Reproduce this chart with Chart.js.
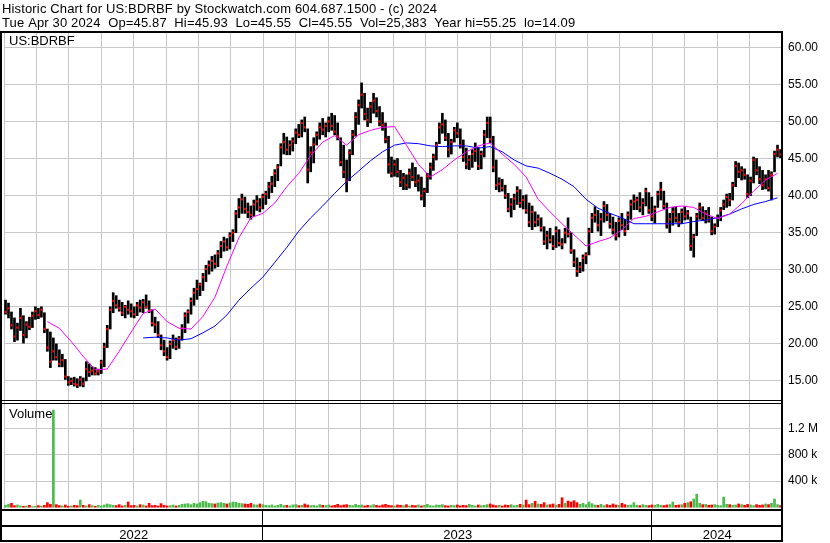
<!DOCTYPE html>
<html>
<head>
<meta charset="utf-8">
<script src="https://cdn.jsdelivr.net/npm/chart.js@4.4.1/dist/chart.umd.min.js"></script>
<style>
  html, body { margin: 0; padding: 0; background: #fff; }
  canvas { display: block; }
</style>
</head>
<body>
<canvas id="myChart" width="830" height="543" style="width:830px;height:543px"></canvas>
<script>
// two-day bars, May 2022 .. Apr 2024
const hi = [
  25.9,25.5,24.3,23.5,22.8,24.8,23.8,23.0,23.6,24.3,
  25.0,24.8,25.0,24.2,22.0,21.6,20.8,20.0,19.2,18.6,
  17.9,15.6,15.4,15.5,15.3,15.6,15.4,17.6,17.3,16.9,
  16.8,16.6,17.8,20.1,22.5,25.0,26.9,26.5,25.9,25.6,
  25.2,25.8,25.4,25.0,25.6,25.9,26.0,26.6,25.8,24.6,
  23.6,23.0,21.2,20.5,19.5,20.4,21.2,20.8,21.0,22.6,
  24.2,24.6,26.2,27.5,28.6,28.2,29.5,30.6,31.2,31.8,
  32.0,32.6,33.8,34.4,34.2,35.0,35.4,38.0,39.6,40.2,
  39.8,39.0,38.6,39.4,40.0,39.6,40.2,40.6,41.8,42.6,
  43.5,44.2,47.0,48.4,47.9,47.4,47.8,49.0,49.6,50.2,
  50.6,49.0,46.6,47.8,48.6,49.8,50.4,49.8,50.6,51.1,
  50.8,49.8,47.8,46.8,44.8,46.2,48.8,51.2,52.9,55.2,
  53.8,51.8,52.6,53.8,53.2,52.0,51.2,49.8,48.0,45.2,
  44.8,45.0,43.4,43.0,42.8,43.6,44.4,43.8,42.8,42.5,
  41.0,43.0,44.4,45.6,47.2,49.8,51.1,50.2,48.4,47.6,
  49.2,49.8,49.0,47.5,46.4,45.4,46.2,47.1,46.5,46.0,
  48.8,50.6,50.6,48.0,44.8,42.4,42.2,41.4,40.3,39.6,
  40.2,41.2,40.8,40.0,40.1,39.0,38.6,37.8,37.4,37.0,
  35.8,35.2,35.6,34.6,35.8,35.4,34.2,35.6,37.0,35.0,
  32.7,31.6,31.0,32.0,32.3,35.6,37.6,38.5,38.0,37.6,
  39.2,38.8,37.6,37.1,36.4,37.0,37.6,36.8,37.8,39.4,
  40.1,39.8,40.4,39.6,41.0,40.4,39.8,38.6,40.6,41.8,
  40.6,39.0,37.6,38.4,38.5,37.6,38.2,38.5,38.0,37.1,
  34.8,37.6,39.0,38.5,38.0,38.4,37.1,36.2,37.4,38.4,
  39.4,40.2,40.3,41.8,44.6,44.4,43.9,43.6,42.8,42.5,
  45.2,45.0,43.9,43.4,42.8,43.4,43.2,46.0,46.8,46.2
];
const lo = [
  24.0,23.5,22.0,20.3,20.5,21.8,20.1,20.8,21.9,22.2,
  23.3,23.4,23.6,21.5,19.0,16.8,17.8,17.8,16.9,16.9,
  15.2,14.4,14.5,14.3,14.1,14.3,14.2,15.0,15.6,15.8,
  15.8,15.8,16.0,16.9,19.5,22.0,24.2,24.8,24.4,23.8,
  23.5,24.0,23.6,23.5,23.8,24.3,24.2,24.8,24.2,22.4,
  21.5,20.9,19.2,18.4,17.8,18.0,19.4,19.2,19.4,20.5,
  21.5,22.8,24.0,25.2,26.0,26.5,27.2,28.4,29.4,29.8,
  30.2,30.4,31.6,32.5,32.6,32.8,33.8,35.0,37.0,37.6,
  37.6,37.0,36.8,37.2,38.0,37.8,38.2,38.8,39.6,40.4,
  41.2,42.0,44.0,45.6,45.5,45.5,46.0,47.0,47.8,47.9,
  48.6,41.7,43.2,44.4,46.8,47.6,48.2,47.9,48.6,48.8,
  48.2,47.5,44.0,42.4,40.5,42.0,45.5,48.0,49.6,51.8,
  50.2,49.3,49.8,51.1,50.6,49.4,48.8,47.1,43.0,42.5,
  42.6,42.5,41.2,40.8,40.8,41.0,42.0,41.2,40.6,39.4,
  38.5,40.4,42.2,43.4,44.8,47.0,48.4,47.4,45.2,45.6,
  47.2,47.8,46.4,44.6,43.6,43.5,43.8,44.6,43.5,43.6,
  45.2,47.8,47.1,43.2,40.8,40.5,40.6,39.6,37.8,37.1,
  38.1,38.8,38.4,38.2,37.6,35.8,35.4,35.8,35.9,35.2,
  33.4,32.8,33.6,32.7,33.0,33.2,32.8,33.6,34.4,32.2,
  30.4,29.1,29.6,29.8,30.8,32.0,35.0,36.4,35.2,34.6,
  36.4,36.6,35.6,34.8,34.0,34.4,35.4,34.6,35.4,36.8,
  38.1,38.1,37.8,37.4,38.6,37.6,36.6,36.3,38.4,39.4,
  38.2,35.6,35.0,36.0,36.4,35.8,36.2,36.7,36.8,32.6,
  31.7,34.6,36.8,36.6,36.3,36.4,34.7,34.8,35.8,36.6,
  38.1,38.4,38.6,39.4,41.2,42.4,42.1,42.2,39.7,40.0,
  41.7,42.8,41.6,40.8,40.9,40.6,39.4,43.2,45.2,45.1
];
const cl = [
  24.3,24.8,22.5,21.0,22.2,23.5,21.2,22.6,22.3,23.8,
  24.4,23.9,24.6,22.0,19.5,17.6,19.0,18.2,17.3,17.8,
  15.6,14.8,15.0,14.6,14.5,15.2,14.6,16.6,16.2,16.4,
  16.0,16.3,17.5,19.6,22.0,24.6,25.8,25.2,24.8,24.2,
  25.0,24.6,24.4,24.0,25.2,24.9,25.6,25.0,24.5,22.8,
  22.6,21.2,19.8,19.0,18.2,20.0,20.5,19.6,20.7,22.1,
  23.8,24.3,25.8,26.9,27.4,28.0,29.0,30.1,30.6,31.2,
  30.8,32.2,33.2,33.8,33.0,34.6,35.0,37.6,38.4,39.5,
  38.2,37.8,37.4,38.8,39.2,38.4,39.8,40.2,41.2,41.6,
  43.0,43.8,46.5,47.2,46.2,46.8,47.3,48.5,48.2,49.8,
  49.2,43.5,45.8,46.9,48.2,49.2,48.9,49.4,50.0,49.4,
  48.6,48.0,44.5,43.2,42.0,45.8,48.2,50.6,52.2,53.6,
  51.0,50.2,52.0,52.8,51.4,50.0,49.5,47.6,44.2,43.0,
  44.2,43.2,41.8,42.4,41.4,43.0,42.5,41.8,42.0,40.0,
  40.6,42.6,43.8,45.2,46.8,49.2,49.6,47.8,46.2,47.2,
  48.8,48.4,46.8,45.2,44.2,44.8,45.6,46.0,44.0,45.6,
  48.2,49.8,47.6,43.8,41.4,41.6,41.0,40.0,38.2,38.8,
  39.6,40.6,39.0,39.4,38.0,36.4,37.8,36.4,36.8,35.6,
  33.8,34.6,34.0,33.2,35.2,33.6,33.4,35.0,34.8,32.6,
  31.0,29.8,30.4,31.6,32.0,35.2,37.0,37.4,36.0,36.8,
  38.6,37.4,36.2,35.4,34.6,36.6,36.0,35.2,37.4,38.8,
  39.2,39.4,38.4,39.0,40.6,38.0,37.2,38.2,40.2,40.8,
  38.6,36.2,36.8,37.8,37.0,36.4,37.8,37.2,37.6,33.2,
  34.4,37.2,38.4,37.0,37.6,36.8,35.2,35.8,37.0,38.0,
  38.8,39.8,39.4,41.4,44.0,43.2,43.4,42.8,40.2,42.0,
  44.8,43.4,42.2,41.4,42.2,41.0,42.8,45.6,46.2,45.55
];
// volume in thousands
const volK = [
  30,45,60,25,35,20,15,20,30,10,
  15,25,20,30,70,45,1480,40,25,20,
  35,15,20,30,25,110,30,20,40,25,
  15,30,20,35,50,40,30,25,40,20,
  30,80,25,30,20,40,35,20,60,25,
  30,20,55,30,20,25,35,20,30,45,
  50,55,40,60,50,70,90,85,60,55,
  50,65,70,60,50,65,80,75,60,55,
  50,45,60,40,35,50,40,30,25,35,
  20,30,45,25,30,20,35,40,25,30,
  50,35,25,30,20,40,30,25,35,20,
  30,45,25,35,40,30,25,45,30,35,
  20,30,25,40,30,20,35,45,30,25,
  20,35,30,25,40,20,30,25,35,20,
  30,45,25,20,35,30,40,25,20,30,
  25,35,20,30,25,45,30,20,35,25,
  30,40,50,35,25,30,20,35,30,40,
  25,30,45,35,110,40,60,90,50,45,
  70,35,40,50,30,45,145,60,95,80,
  100,70,45,60,40,80,55,35,30,45,
  25,40,30,50,35,30,60,40,30,35,
  70,30,25,40,30,25,35,30,45,30,
  25,35,40,80,30,35,40,60,70,84,
  126,200,60,40,45,30,35,40,30,25,
  155,45,40,30,35,50,40,30,45,35,
  25,40,30,35,50,40,60,126,40,25
];
// moving averages, one value every 4 bars
const ma1Start = 14;
const ma1 = [
  23.0,22.1,20.3,18.3,16.5,16.6,19.0,21.6,24.1,24.7,
  23.0,22.1,22.0,23.7,26.3,30.5,34.3,37.0,37.6,39.0,
  41.2,43.0,45.4,47.2,48.1,46.8,48.2,48.8,49.2,49.3,
  46.8,44.2,42.5,43.5,44.8,45.9,46.7,47.1,45.6,44.2,
  42.5,39.5,37.8,36.2,34.7,33.2,33.8,34.3,35.4,36.9,
  37.2,37.8,38.4,38.6,38.4,37.5,36.9,37.5,38.9,40.6,
  42.1,43.0
];
const ma2Start = 46;
const ma2 = [
  20.8,20.9,20.8,20.5,20.7,21.5,22.4,23.9,25.9,27.5,
  29.0,31.0,33.0,35.2,37.0,38.6,40.3,41.9,43.3,
  44.7,45.9,46.8,47.1,47.0,46.7,46.6,46.7,46.7,46.4,
  46.6,45.9,44.8,44.0,43.7,43.0,42.2,41.2,39.5,38.3,
  37.6,37.0,36.2,36.2,36.2,36.2,36.2,36.5,36.7,37.0,
  37.5,38.2,38.8,39.2,39.7
];
const priceTicks = [15,17.5,20,22.5,25,27.5,30,32.5,35,37.5,40,42.5,45,47.5,50,52.5,55,57.5,60];
const volTicks = [400000, 800000, 1200000];
const volLabels = ['400 k', '800 k', '1.2 M'];
const years = ['2022', '2023', '2024'];
const yearBounds = [0, 8, 20, 24]; // months from May 2022

const N = cl.length;
const xOf = (i) => (i + 0.5) * 24 / N;
const FONT = 'Liberation Sans, Arial, sans-serif';
const gridColor = '#c8c8c8';

const volColors = volK.map((v, i) => (i > 0 && cl[i] < cl[i - 1]) ? '#ff0000' : '#4cbb4c');

const frame = {
  id: 'frame',
  beforeDraw(chart) {
    const c = chart.ctx;
    c.save();
    c.fillStyle = '#fff';
    c.fillRect(0, 0, chart.width, chart.height);
    c.restore();
  },
  afterDraw(chart) {
    const c = chart.ctx;
    const xs = chart.scales.x;
    c.save();
    c.fillStyle = '#fff';
    c.fillRect(0, 509, 783, 34);
    c.fillStyle = '#000';
    c.font = '13px ' + FONT;
    c.textBaseline = 'alphabetic';
    c.letterSpacing = '0.15px';
    c.fillText('Historic Chart for US:BDRBF by Stockwatch.com 604.687.1500 - (c) 2024', 2, 13);
    c.fillText('Tue Apr 30 2024  Op=45.87  Hi=45.93  Lo=45.55  Cl=45.55  Vol=25,383  Year hi=55.25  lo=14.09', 2, 27);
    c.letterSpacing = '0px';
    c.fillText('US:BDRBF', 9, 45);
    c.fillText('Volume', 9, 418);
    // borders
    c.fillRect(0, 31, 783, 2);
    c.fillRect(0, 31, 2, 511);
    c.fillRect(781, 31, 2, 511);
    c.fillRect(0, 400, 783, 1);
    c.fillRect(0, 403, 783, 1);
    c.fillRect(0, 509, 783, 2);
    c.fillRect(0, 525, 783, 2);
    c.fillRect(0, 540, 783, 2);
    // year row
    c.textAlign = 'center';
    for (let k = 0; k < years.length; k++) {
      const a = xs.getPixelForValue(yearBounds[k]);
      const b = xs.getPixelForValue(yearBounds[k + 1]);
      if (k > 0) c.fillRect(Math.round(a) - 1, 509, 1, 32);
      c.fillText(years[k], (a + b) / 2, 539);
    }
    c.restore();
  }
};

const ctx = document.getElementById('myChart').getContext('2d');
const myChart = new Chart(ctx, {
  type: 'bar',
  data: {
    datasets: [
      {
        type: 'line',
        data: ma1.map((v, k) => ({ x: xOf(ma1Start + 4 * k), y: v })),
        borderColor: '#ff00ff',
        borderWidth: 1,
        pointRadius: 0,
        tension: 0,
        yAxisID: 'y',
        order: 0
      },
      {
        type: 'line',
        data: ma2.map((v, k) => ({ x: xOf(ma2Start + 4 * k), y: v })),
        borderColor: '#0000ff',
        borderWidth: 1,
        pointRadius: 0,
        tension: 0,
        yAxisID: 'y',
        order: 0
      },
      {
        type: 'line',
        data: cl.map((v, i) => ({ x: xOf(i), y: v })),
        showLine: false,
        pointStyle: 'rect',
        pointRadius: 1.5,
        pointBorderWidth: 0,
        pointBackgroundColor: '#ff0000',
        yAxisID: 'y',
        order: 1
      },
      {
        data: hi.map((h, i) => ({ x: xOf(i), y: [lo[i], h] })),
        backgroundColor: '#000',
        barThickness: 2,
        grouped: false,
        yAxisID: 'y',
        order: 2
      },
      {
        data: volK.map((v, i) => ({ x: xOf(i), y: v * 1000 })),
        backgroundColor: volColors,
        barThickness: 2,
        grouped: false,
        yAxisID: 'v',
        order: 3
      }
    ]
  },
  options: {
    responsive: false,
    animation: false,
    events: [],
    layout: { padding: { top: 32, left: 2, right: 0, bottom: 34 } },
    plugins: { legend: { display: false }, tooltip: { enabled: false } },
    scales: {
      x: {
        type: 'linear',
        min: 0,
        max: 24,
        offset: false,
        grid: { color: gridColor, drawTicks: false, offset: false },
        border: { display: false },
        ticks: { display: false, stepSize: 1 }
      },
      y: {
        position: 'right',
        stack: 'panels',
        stackWeight: 370,
        min: 12.16,
        max: 62.06,
        afterBuildTicks: (s) => { s.ticks = priceTicks.map((v) => ({ value: v })); },
        afterFit: (s) => { s.width = 48; },
        grid: { color: gridColor, drawTicks: false },
        border: { display: false },
        ticks: {
          color: '#000',
          padding: 6,
          font: { family: FONT, size: 12 },
          callback: (v) => Number(v).toFixed(2)
        }
      },
      v: {
        position: 'right',
        stack: 'panels',
        stackWeight: 107,
        min: -26700,
        max: 1604000,
        afterBuildTicks: (s) => { s.ticks = volTicks.map((v) => ({ value: v })); },
        afterFit: (s) => { s.width = 48; },
        grid: { color: gridColor, drawTicks: false },
        border: { display: false },
        ticks: {
          color: '#000',
          padding: 6,
          font: { family: FONT, size: 12 },
          callback: (v) => volLabels[volTicks.indexOf(v)]
        }
      }
    }
  },
  plugins: [frame]
});
</script>
</body>
</html>
